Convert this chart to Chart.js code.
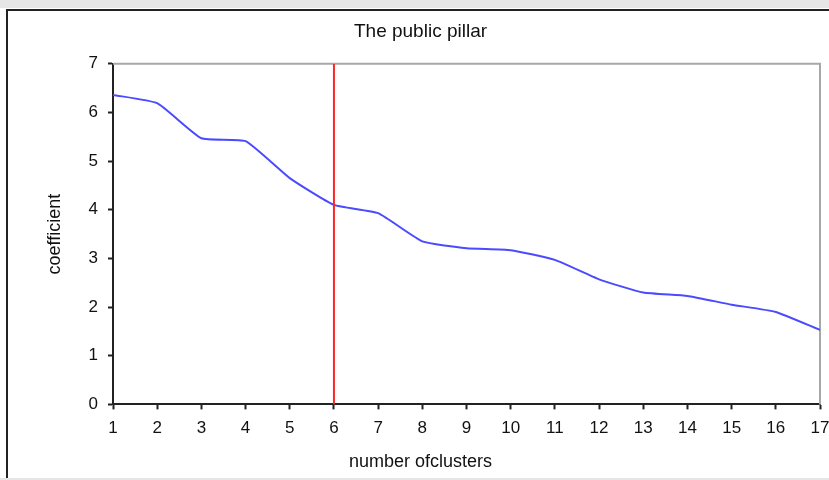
<!DOCTYPE html>
<html>
<head>
<meta charset="utf-8">
<script src="https://cdn.jsdelivr.net/npm/chart.js@4/dist/chart.umd.min.js"></script>
<style>
  html, body { margin: 0; padding: 0; background: #fff; }
  canvas { display: block; }
</style>
</head>
<body>
<canvas id="pillarChart" width="829" height="480"></canvas>
<script>
// values
const clusters = [1, 2, 3, 4, 5, 6, 7, 8, 9, 10, 11, 12, 13, 14, 15, 16, 17];
const coefficients = [6.36, 6.19, 5.47, 5.41, 4.65, 4.10, 3.93, 3.35, 3.21, 3.17, 2.97, 2.57, 2.30, 2.23, 2.05, 1.90, 1.53];
const cutoffX = [6, 6];
const cutoffY = [0, 7];
const yTicks = [0, 1, 2, 3, 4, 5, 6, 7];

const fontFamily = "'Liberation Sans', Arial, sans-serif";

// outer frame + grey top/right border of the plot
const framePlugin = {
  id: 'frame',
  beforeDraw(chart) {
    const ctx = chart.ctx;
    ctx.save();
    ctx.fillStyle = '#ffffff';
    ctx.fillRect(0, 0, chart.width, chart.height);
    ctx.fillStyle = '#e6e6e6';
    ctx.fillRect(0, 0, chart.width, 8);
    ctx.fillRect(0, chart.height - 2, chart.width, 2);
    ctx.fillStyle = '#222';
    ctx.fillRect(6, 9, chart.width - 6, 2);
    ctx.fillRect(6, 9, 2, chart.height - 11);
    ctx.restore();
  },
  beforeDatasetsDraw(chart) {
    const { ctx, chartArea: a } = chart;
    ctx.save();
    ctx.strokeStyle = '#a8a8a8';
    ctx.lineWidth = 2;
    ctx.beginPath();
    ctx.moveTo(a.left, a.top);
    ctx.lineTo(a.right, a.top);
    ctx.lineTo(a.right, a.bottom);
    ctx.stroke();
    ctx.restore();
  }
};

const ctx = document.getElementById('pillarChart').getContext('2d');
new Chart(ctx, {
  type: 'line',
  data: {
    datasets: [
      {
        label: 'cut-off',
        data: cutoffX.map((x, i) => ({ x, y: cutoffY[i] })),
        borderColor: '#ff2424',
        borderWidth: 2,
        pointRadius: 0,
        tension: 0
      },
      {
        label: 'coefficient',
        data: clusters.map((x, i) => ({ x, y: coefficients[i] })),
        borderColor: '#4a4aff',
        borderWidth: 2,
        pointRadius: 0,
        tension: 0.15
      }
    ]
  },
  options: {
    responsive: false,
    animation: false,
    layout: { padding: { top: 10, left: 12, right: 0, bottom: 0 } },
    plugins: {
      legend: { display: false },
      tooltip: { enabled: false },
      title: {
        display: true,
        text: 'The public pillar',
        color: '#111',
        font: { family: fontFamily, size: 19, weight: 'normal' },
        padding: { top: 10, bottom: 21 }
      },
      subtitle: {
        display: true,
        position: 'bottom',
        text: 'number ofclusters',
        color: '#111',
        font: { family: fontFamily, size: 18, weight: 'normal' },
        padding: { top: 11, bottom: 7 }
      }
    },
    scales: {
      x: {
        type: 'linear',
        min: 1,
        max: 17,
        afterFit(scale) {
          scale.height = 36;
          scale.paddingLeft = 0;
          scale.paddingRight = 9;
        },
        ticks: {
          stepSize: 1,
          padding: 9,
          color: '#111',
          font: { family: fontFamily, size: 17 }
        },
        grid: {
          drawOnChartArea: false,
          drawTicks: true,
          tickLength: 5,
          tickWidth: 2,
          color: '#222'
        },
        border: { color: '#222', width: 2 }
      },
      y: {
        min: 0,
        max: 7,
        afterFit(scale) { scale.width = 101; },
        afterBuildTicks(scale) { scale.ticks = yTicks.map(v => ({ value: v })); },
        title: {
          display: true,
          text: 'coefficient',
          color: '#111',
          font: { family: fontFamily, size: 18, weight: 'normal' },
          padding: { top: 32, bottom: 0 }
        },
        ticks: {
          padding: 10,
          color: '#111',
          font: { family: fontFamily, size: 17 }
        },
        grid: {
          drawOnChartArea: false,
          drawTicks: true,
          tickLength: 5,
          tickWidth: 2,
          color: '#222'
        },
        border: { color: '#222', width: 2 }
      }
    }
  },
  plugins: [framePlugin]
});
</script>
</body>
</html>
